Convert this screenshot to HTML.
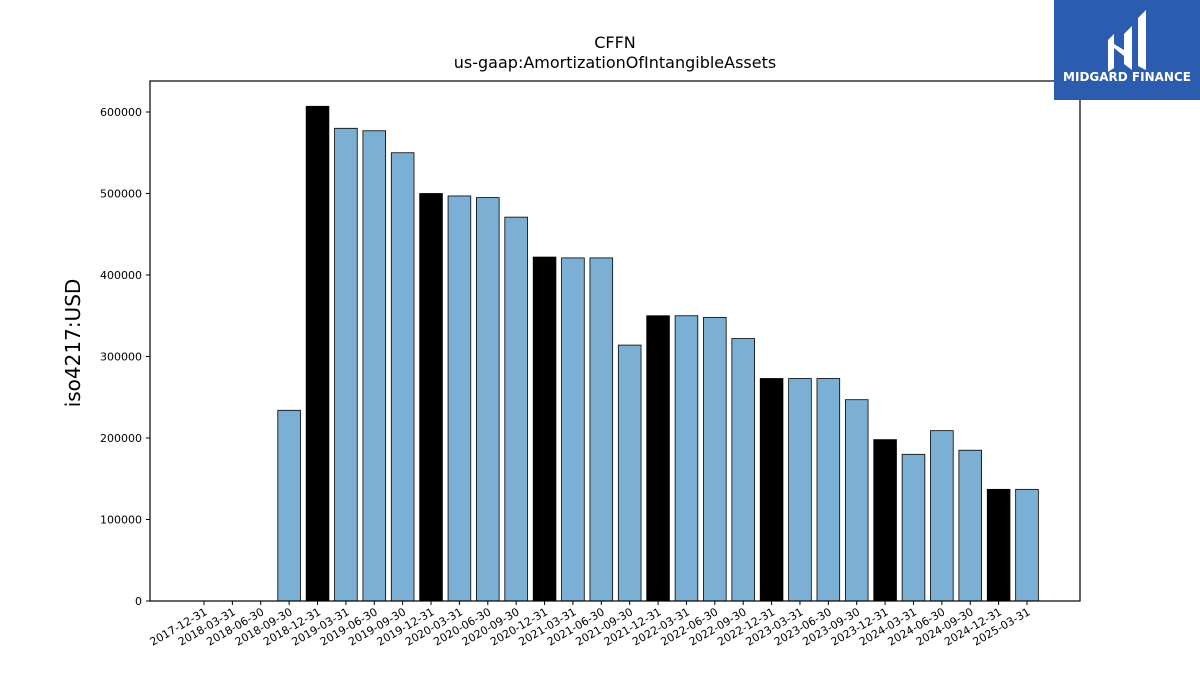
<!DOCTYPE html>
<html><head><meta charset="utf-8"><style>
body{margin:0;background:#fff;}
svg{display:block;font-family:"DejaVu Sans","Liberation Sans",sans-serif;}
</style></head><body>
<svg id="chart" width="1200" height="675" viewBox="0 0 1200 675">
<rect width="1200" height="675" fill="#fff"/>
<text x="615" y="48" font-size="16" text-anchor="middle">CFFN</text>
<text x="615" y="68" font-size="16" text-anchor="middle">us-gaap:AmortizationOfIntangibleAssets</text>
<text transform="translate(80,343) rotate(-90)" font-size="20" text-anchor="middle">iso4217:USD</text>
<g id="bars"></g>
<g id="yticks"></g>
<g id="xticks"></g>
<rect x="150" y="81" width="930" height="520" fill="none" stroke="#000" stroke-width="1.2"/>
<g>
<rect x="1054" y="0" width="146" height="100" fill="#2b5cb0"/>
<path d="M1108 40 l6 -6 v34 l-6 4 z M1124 34 l8 -8 v44 l-8 -6 z M1138 18 l8 -8 v60 l-8 -4 z M1114 48 l10 8 v-6 l-10 -6 z" fill="#fff"/>
<text x="1127" y="81" font-size="12" font-weight="bold" fill="#fff" text-anchor="middle">MIDGARD FINANCE</text>
</g>
</svg>
<script>
const categories=["2017-12-31","2018-03-31","2018-06-30","2018-09-30","2018-12-31","2019-03-31","2019-06-30","2019-09-30","2019-12-31","2020-03-31","2020-06-30","2020-09-30","2020-12-31","2021-03-31","2021-06-30","2021-09-30","2021-12-31","2022-03-31","2022-06-30","2022-09-30","2022-12-31","2023-03-31","2023-06-30","2023-09-30","2023-12-31","2024-03-31","2024-06-30","2024-09-30","2024-12-31","2025-03-31"];
const values=[null,null,null,234000,607000,580000,577000,550000,500000,497000,495000,471000,422000,421000,421000,314000,350000,350000,348000,322000,273000,273000,273000,247000,198000,180000,209000,185000,137000,137000];
const yTicks=[0,100000,200000,300000,400000,500000,600000];
const NS="http://www.w3.org/2000/svg";
const x0=204, step=(1027-204)/29;
function xs(i){return x0+i*step;}
function ys(v){return 601-v*(489/600000);}
const bw=step*0.8;
const bars=document.getElementById('bars');
values.forEach((v,i)=>{
 if(v==null)return;
 const r=document.createElementNS(NS,'rect');
 r.setAttribute('x',xs(i)-bw/2);r.setAttribute('y',ys(v));
 r.setAttribute('width',bw);r.setAttribute('height',ys(0)-ys(v));
 r.setAttribute('fill',categories[i].endsWith('12-31')?'#000':'#7bafd4');
 r.setAttribute('stroke','#000');r.setAttribute('stroke-width','0.8');
 
 
 bars.appendChild(r);
});
const yg=document.getElementById('yticks');
yTicks.forEach(t=>{
 const l=document.createElementNS(NS,'line');
 l.setAttribute('x1',146);l.setAttribute('x2',150);l.setAttribute('y1',ys(t));l.setAttribute('y2',ys(t));l.setAttribute('stroke','#000');
 
 
 yg.appendChild(l);
 const tx=document.createElementNS(NS,'text');
 tx.setAttribute('x',142);tx.setAttribute('y',ys(t)+4);tx.setAttribute('font-size','11');tx.setAttribute('text-anchor','end');
 tx.textContent=t;
 
 
 yg.appendChild(tx);
});
const xg=document.getElementById('xticks');
categories.forEach((c,i)=>{
 const x=xs(i);
 const l=document.createElementNS(NS,'line');
 l.setAttribute('x1',x);l.setAttribute('x2',x);l.setAttribute('y1',601);l.setAttribute('y2',605);l.setAttribute('stroke','#000');
 
 
 xg.appendChild(l);
 const tx=document.createElementNS(NS,'text');
 tx.setAttribute('transform','translate('+(x+4)+',614) rotate(-30)');
 tx.setAttribute('font-size','11');tx.setAttribute('text-anchor','end');
 tx.textContent=c;
 
 
 xg.appendChild(tx);
});
</script>
</body></html>
